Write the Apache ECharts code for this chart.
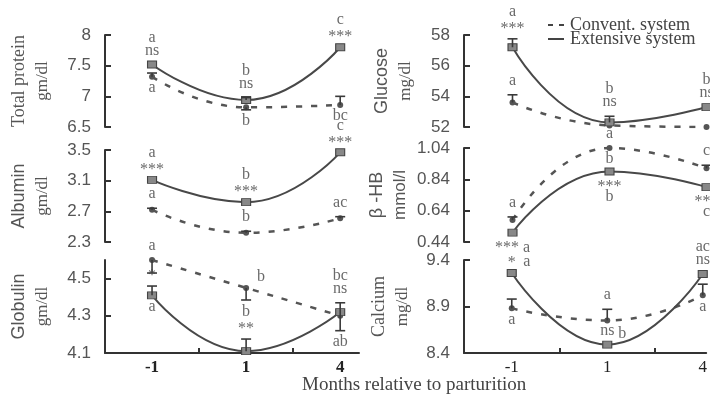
<!DOCTYPE html>
<html><head><meta charset="utf-8">
<script src="https://cdn.jsdelivr.net/npm/echarts@6/dist/echarts.min.js"></script>
<style>html,body{margin:0;padding:0;background:#fff}#c{width:710px;height:399px}</style>
</head><body><div id="c"></div>
<script>
// ---- categories ----
const months = ['-1', '1', '4'];
const seriesNames = ['Convent. system', 'Extensive system'];

// ---- Total protein (gm/dl) ----
const tpTicks = [6.5, 7, 7.5, 8];
const tpConv = [7.32, 6.82, 6.86];
const tpExt = [7.52, 6.94, 7.80];
const tpConvErrUp = [0.06, 0, 0.14];
const tpConvErrDn = [0, 0.04, 0];
const tpExtErrUp = [0, 0.04, 0];
const tpExtErrDn = [0, 0, 0];
const tpConvAbove = [[], [], []];
const tpConvBelow = [['a'], ['b'], ['bc']];
const tpExtAbove = [['ns', 'a'], ['ns', 'b'], ['***', 'c']];
const tpExtBelow = [[], [], []];
const tpConvSide = ['', '', ''];
const tpExtSide = ['', '', ''];

// ---- Glucose (mg/dl) ----
const guTicks = [52, 54, 56, 58];
const guConv = [53.6, 52.1, 52.0];
const guExt = [57.2, 52.3, 53.3];
const guConvErrUp = [0.5, 0, 0];
const guConvErrDn = [0, 0, 0];
const guExtErrUp = [0.55, 0.4, 0];
const guExtErrDn = [0, 0, 0];
const guConvAbove = [['a'], [], []];
const guConvBelow = [[], [], []];
const guExtAbove = [['***', 'a'], ['ns', 'b'], ['ns', 'b']];
const guExtBelow = [[], [], []];
const guConvSide = ['', '', ''];
const guExtSide = ['', '', ''];

// ---- Albumin (gm/dl) ----
const alTicks = [2.3, 2.7, 3.1, 3.5];
const alConv = [2.72, 2.42, 2.61];
const alExt = [3.11, 2.82, 3.47];
const alConvErrUp = [0.02, 0.02, 0.02];
const alConvErrDn = [0, 0, 0];
const alExtErrUp = [0, 0, 0];
const alExtErrDn = [0, 0, 0];
const alConvAbove = [['a'], ['b'], ['ac']];
const alConvBelow = [[], [], []];
const alExtAbove = [['***', 'a'], ['***', 'b'], ['***', 'c']];
const alExtBelow = [[], [], []];
const alConvSide = ['', '', ''];
const alExtSide = ['', '', ''];

// ---- beta-HB (mmol/l) ----
const bhTicks = [0.44, 0.64, 0.84, 1.04];
const bhConv = [0.58, 1.04, 0.91];
const bhExt = [0.50, 0.89, 0.79];
const bhConvErrUp = [0.02, 0, 0.02];
const bhConvErrDn = [0, 0, 0];
const bhExtErrUp = [0, 0, 0];
const bhExtErrDn = [0, 0, 0];
const bhConvAbove = [['a'], ['a'], ['c']];
const bhConvBelow = [[], ['b'], []];
const bhExtAbove = [[], [], []];
const bhExtBelow = [['*** a'], ['***', 'b'], ['***', 'c']];
const bhConvSide = ['', '', ''];
const bhExtSide = ['', '', ''];

// ---- Globulin (gm/dl) ----
const glTicks = [4.1, 4.3, 4.5];
const glConv = [4.60, 4.45, 4.30];
const glExt = [4.41, 4.11, 4.32];
const glConvErrUp = [0, 0, 0];
const glConvErrDn = [0.07, 0.065, 0];
const glExtErrUp = [0.05, 0.065, 0.05];
const glExtErrDn = [0, 0, 0.1];
const glConvAbove = [['a'], [], []];
const glConvBelow = [[], [], []];
const glExtAbove = [['*'], ['**', 'b'], ['ns', 'bc']];
const glExtBelow = [['a'], [], ['ab']];
const glConvSide = ['', 'b', ''];
const glExtSide = ['', '', ''];

// ---- Calcium (mg/dl) ----
const caTicks = [8.4, 8.9, 9.4];
const caConv = [8.88, 8.75, 9.02];
const caExt = [9.26, 8.49, 9.25];
const caConvErrUp = [0.1, 0.12, 0.12];
const caConvErrDn = [0, 0, 0];
const caExtErrUp = [0, 0, 0];
const caExtErrDn = [0, 0, 0];
const caConvAbove = [[], ['a'], []];
const caConvBelow = [['a'], [], ['a']];
const caExtAbove = [['*'], ['ns'], ['ns', 'ac']];
const caExtBelow = [[], [], []];
const caConvSide = ['', '', ''];
const caExtSide = ['a', 'b', ''];

const SERIF = 'Liberation Serif';
const SANS = 'Liberation Sans';

const panels = [
  {col: 0, row: 0, top: 35, height: 92, ticks: tpTicks, min: 6.5, max: 8, n1: 'Total protein', n1f: SERIF, n2: 'gm/dl', n2f: SERIF, gap: 51,
   conv: tpConv, ext: tpExt, cu: tpConvErrUp, cd: tpConvErrDn, eu: tpExtErrUp, ed: tpExtErrDn,
   ca: tpConvAbove, cb: tpConvBelow, ea: tpExtAbove, eb: tpExtBelow, cs: tpConvSide, es: tpExtSide},
  {col: 1, row: 0, top: 35, height: 92, ticks: guTicks, min: 52, max: 58, n1: 'Glucose', n1f: SANS, n2: 'mg/dl', n2f: SERIF, gap: 47,
   conv: guConv, ext: guExt, cu: guConvErrUp, cd: guConvErrDn, eu: guExtErrUp, ed: guExtErrDn,
   ca: guConvAbove, cb: guConvBelow, ea: guExtAbove, eb: guExtBelow, cs: guConvSide, es: guExtSide},
  {col: 0, row: 1, top: 150, height: 92, ticks: alTicks, min: 2.3, max: 3.5, n1: 'Albumin', n1f: SANS, n2: 'gm/dl', n2f: SERIF, gap: 51,
   conv: alConv, ext: alExt, cu: alConvErrUp, cd: alConvErrDn, eu: alExtErrUp, ed: alExtErrDn,
   ca: alConvAbove, cb: alConvBelow, ea: alExtAbove, eb: alExtBelow, cs: alConvSide, es: alExtSide},
  {col: 1, row: 1, top: 148, height: 94, ticks: bhTicks, min: 0.44, max: 1.04, n1: 'β -HB', n1f: SANS, n2: 'mmol/l', n2f: SANS, gap: 52,
   conv: bhConv, ext: bhExt, cu: bhConvErrUp, cd: bhConvErrDn, eu: bhExtErrUp, ed: bhExtErrDn,
   ca: bhConvAbove, cb: bhConvBelow, ea: bhExtAbove, eb: bhExtBelow, cs: bhConvSide, es: bhExtSide},
  {col: 0, row: 2, top: 260, height: 93, ticks: glTicks, min: 4.1, max: 4.6, n1: 'Globulin', n1f: SANS, n2: 'gm/dl', n2f: SERIF, gap: 51,
   conv: glConv, ext: glExt, cu: glConvErrUp, cd: glConvErrDn, eu: glExtErrUp, ed: glExtErrDn,
   ca: glConvAbove, cb: glConvBelow, ea: glExtAbove, eb: glExtBelow, cs: glConvSide, es: glExtSide},
  {col: 1, row: 2, top: 260, height: 93, ticks: caTicks, min: 8.4, max: 9.4, n1: 'Calcium', n1f: SERIF, n2: 'mg/dl', n2f: SERIF, gap: 50,
   conv: caConv, ext: caExt, cu: caConvErrUp, cd: caConvErrDn, eu: caExtErrUp, ed: caExtErrDn,
   ca: caConvAbove, cb: caConvBelow, ea: caExtAbove, eb: caExtBelow, cs: caConvSide, es: caExtSide}
];

const colGeom = [{left: 105, width: 254, xmax: 2.2}, {left: 464, width: 246, xmax: 2.036}];

function errRender(params, api) {
  const x = api.value(0), v = api.value(1), up = api.value(2), dn = api.value(3);
  const p = api.coord([x, v]);
  const st = {stroke: '#3a3a3a', lineWidth: 1.6};
  const ch = [];
  [[up, 1], [dn, -1]].forEach(([e, s]) => {
    if (e > 0) {
      const t = api.coord([x, v + s * e]);
      ch.push({type: 'line', shape: {x1: p[0], y1: p[1], x2: t[0], y2: t[1]}, style: st});
      ch.push({type: 'line', shape: {x1: t[0] - 5, y1: t[1], x2: t[0] + 5, y2: t[1]}, style: st});
    }
  });
  return {type: 'group', children: ch};
}

const option = {
  animation: false,
  backgroundColor: '#fff',
  title: {text: 'Months relative to parturition', left: 297, top: 371,
    textStyle: {fontFamily: SERIF, fontSize: 19, fontWeight: 'normal', color: '#444'}},
  legend: {orient: 'vertical', left: 543, top: 11, itemWidth: 18, itemHeight: 2, itemGap: -4, selectedMode: false,
    textStyle: {fontFamily: SERIF, fontSize: 18, color: '#444', lineHeight: 16},
    data: [
      {name: seriesNames[0], icon: 'path://M0,0H5V2H0Z M11,0H16V2H11Z', itemStyle: {color: '#444', borderWidth: 0}},
      {name: seriesNames[1], icon: 'path://M0,0H16V2H0Z', itemStyle: {color: '#444', borderWidth: 0}}
    ]},
  grid: [], xAxis: [], yAxis: [], series: []
};

panels.forEach((p, i) => {
  const g = colGeom[p.col];
  option.grid.push({left: g.left, width: g.width, top: p.top, height: p.height});
  const bottom = p.row === 2;
  option.xAxis.push({
    type: 'value', gridIndex: i, min: -0.5, max: g.xmax, show: bottom,
    axisLine: {show: true, onZero: false, lineStyle: {color: '#333', width: 2}},
    axisTick: {show: true, inside: true, length: 5, customValues: [0.5, 1.5], lineStyle: {color: '#333', width: 2}},
    axisLabel: {customValues: [0, 1, 2], formatter: v => months[Math.round(v)], margin: 6,
      fontFamily: SERIF, fontSize: 17, fontWeight: p.col === 0 ? 'bold' : 'normal', color: '#222'},
    splitLine: {show: false}
  });
  option.yAxis.push({
    type: 'value', gridIndex: i, min: p.min, max: p.max,
    name: '{a|' + p.n1 + '}\n{b|' + p.n2 + '}', nameLocation: 'middle', nameRotate: 90, nameGap: p.gap,
    nameTextStyle: {rich: {
      a: {fontFamily: p.n1f, fontSize: 18, color: '#555', lineHeight: 23},
      b: {fontFamily: p.n2f, fontSize: 17, color: '#555', lineHeight: 23}}},
    axisLine: {show: true, onZero: false, lineStyle: {color: '#333', width: 2}},
    axisTick: {show: true, inside: true, length: 6, customValues: p.ticks, lineStyle: {color: '#333', width: 2}},
    axisLabel: {customValues: p.ticks, formatter: v => String(+(+v).toFixed(2)), margin: 14,
      fontFamily: SANS, fontSize: 17, color: '#555'},
    splitLine: {show: false}
  });
  const common = {xAxisIndex: i, yAxisIndex: i, smooth: 0.5};
  option.series.push(Object.assign({
    type: 'line', name: seriesNames[0], data: p.conv.map((v, k) => [k, v]),
    symbol: 'circle', symbolSize: 6, color: '#555',
    lineStyle: {type: [6, 9], width: 2.5, color: '#555'}, itemStyle: {color: '#555'}, z: 3
  }, common));
  option.series.push(Object.assign({
    type: 'line', name: seriesNames[1], data: p.ext.map((v, k) => [k, v]),
    symbol: 'rect', symbolSize: [9, 7], color: '#444',
    lineStyle: {width: 2, color: '#484848'}, itemStyle: {color: '#888', borderColor: '#444', borderWidth: 1}, z: 4
  }, common));
  // error bars
  const errData = [];
  p.conv.forEach((v, k) => errData.push([k, v, p.cu[k], p.cd[k]]));
  p.ext.forEach((v, k) => errData.push([k, v, p.eu[k], p.ed[k]]));
  option.series.push({type: 'custom', xAxisIndex: i, yAxisIndex: i, renderItem: errRender,
    data: errData, encode: {x: 0, y: 1}, z: 5, silent: true});
  // annotations (asterisks sit high in the glyph box, so nudge them down)
  const notes = [];
  const star = t => (t.charAt(0) === '*' ? 4 : 0);
  const addNotes = (vals, up, dn, above, below, side) => {
    vals.forEach((v, k) => {
      above[k].forEach((t, j) => notes.push({name: t, value: [k, v + up[k]], label: {offset: [0, -(14 + 13 * j) + star(t)]}}));
      below[k].forEach((t, j) => notes.push({name: t, value: [k, v - dn[k]], label: {offset: [0, 11 + 14 * j + star(t)]}}));
      if (side[k]) notes.push({name: side[k], value: [k, v], label: {offset: [15, -11]}});
    });
  };
  addNotes(p.conv, p.cu, p.cd, p.ca, p.cb, p.cs);
  addNotes(p.ext, p.eu, p.ed, p.ea, p.eb, p.es);
  option.series.push({type: 'scatter', xAxisIndex: i, yAxisIndex: i, data: notes, symbolSize: 1,
    itemStyle: {color: 'rgba(0,0,0,0)'}, silent: true, z: 6,
    label: {show: true, position: 'inside', formatter: '{b}', fontFamily: SERIF, fontSize: 16, color: '#444'}});
});

const chart = echarts.init(document.getElementById('c'), null, {renderer: 'canvas'});
chart.setOption(option);
</script></body></html>
